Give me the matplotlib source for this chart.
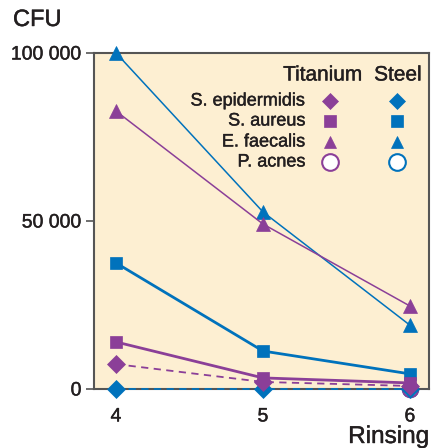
import matplotlib
matplotlib.use("Agg")
import matplotlib.pyplot as plt
import matplotlib.patheffects as pe
import numpy as np

plt.rcParams['font.family'] = ['Liberation Sans', 'DejaVu Sans']

rinsing = [4, 5, 6]
species = ["S. epidermidis", "S. aureus", "E. faecalis", "P. acnes"]
titanium = {
    "S. epidermidis": [7400, 2100, 900],
    "S. aureus": [14000, 3300, 1800],
    "E. faecalis": [82700, 49100, 24700],
    "P. acnes": [np.nan, np.nan, 0],
}
steel = {
    "S. epidermidis": [0, 0, 0],
    "S. aureus": [37500, 11300, 4500],
    "E. faecalis": [100000, 52700, 19000],
    "P. acnes": [np.nan, np.nan, 0],
}
yticks = [0, 50000, 100000]
ytick_labels = ["0", "50 000", "100 000"]

PURPLE = "#8B3F98"
BLUE = "#0072BC"
BG = "#FDEFD2"
DARK = "#231F20"
heavy = [pe.withStroke(linewidth=0.3, foreground=DARK)]

markers = {"S. epidermidis": "D", "S. aureus": "s", "E. faecalis": "^", "P. acnes": "o"}
msizes = {"S. epidermidis": 9, "S. aureus": 9, "E. faecalis": 10, "P. acnes": 11}
styles = {"S. epidermidis": (1.3, (0, (4, 3))), "S. aureus": (2.0, "-"),
          "E. faecalis": (1.1, "-"), "P. acnes": (1.2, "-")}

fig = plt.figure(figsize=(4.32, 4.48), dpi=100)
ax = fig.add_axes([94/432, 59/448, 335/432, 336/448])
ax.set_facecolor(BG)

order = ["P. acnes", "S. epidermidis", "S. aureus", "E. faecalis"]
for sp in order:
    lw, ls = styles[sp]
    for data, col in ((steel, BLUE), (titanium, PURPLE)):
        face = "white" if sp == "P. acnes" else col
        ax.plot(rinsing, data[sp], color=col, lw=lw, ls=ls, marker=markers[sp],
                ms=msizes[sp], mfc=face, mec=col, mew=1.5 if sp == "P. acnes" else 0.5,
                clip_on=False, zorder=3)

ax.set_xlim(3.85, 6.13)
ax.set_ylim(0, 100000)
ax.set_yticks(yticks)
ax.set_yticklabels(ytick_labels)
ax.set_xticks(rinsing)
ax.set_xticklabels([str(r) for r in rinsing])
ax.tick_params(axis='y', direction='out', length=6, width=1.2, color="#555555",
               labelsize=14, labelcolor=DARK, pad=3)
ax.tick_params(axis='x', length=0, labelsize=14, labelcolor=DARK, pad=14)
for lab in ax.get_xticklabels() + ax.get_yticklabels():
    lab.set_path_effects(heavy)
for s in ax.spines.values():
    s.set_color("#555555")
    s.set_linewidth(1.5)

fig.text(13/432, 1 - 20/448, "CFU", fontsize=17, color=DARK, va="center", ha="left",
         path_effects=heavy)
fig.text(429/432, 1 - 437/448, "Rinsing", fontsize=17.5, color=DARK, va="center", ha="right",
         path_effects=heavy)

# Legend table
def ax_xy(px, py):
    return ((px - 94) / 335, (389 - py) / 336)

hx, hy = ax_xy(323, 75)
ax.text(hx, hy, "Titanium", transform=ax.transAxes, ha="center", va="center",
        fontsize=15, color=DARK, path_effects=heavy)
hx2, _ = ax_xy(398, 75)
ax.text(hx2, hy, "Steel", transform=ax.transAxes, ha="center", va="center",
        fontsize=15, color=DARK, path_effects=heavy)
rows_y = [101, 121, 142, 162]
for sp, py in zip(species, rows_y):
    lx, ly = ax_xy(305, py)
    ax.text(lx, ly, sp, transform=ax.transAxes, ha="right", va="center",
            fontsize=13, color=DARK, path_effects=heavy)
    for px, col in ((330, PURPLE), (397, BLUE)):
        mx, my = ax_xy(px, py)
        face = "white" if sp == "P. acnes" else col
        ax.plot([mx], [my], transform=ax.transAxes, marker=markers[sp],
                ms=msizes[sp] - 1 if sp != "P. acnes" else 12, mfc=face, mec=col,
                mew=1.5 if sp == "P. acnes" else 0.5, ls="none")

fig.savefig("out.png", dpi=100)
